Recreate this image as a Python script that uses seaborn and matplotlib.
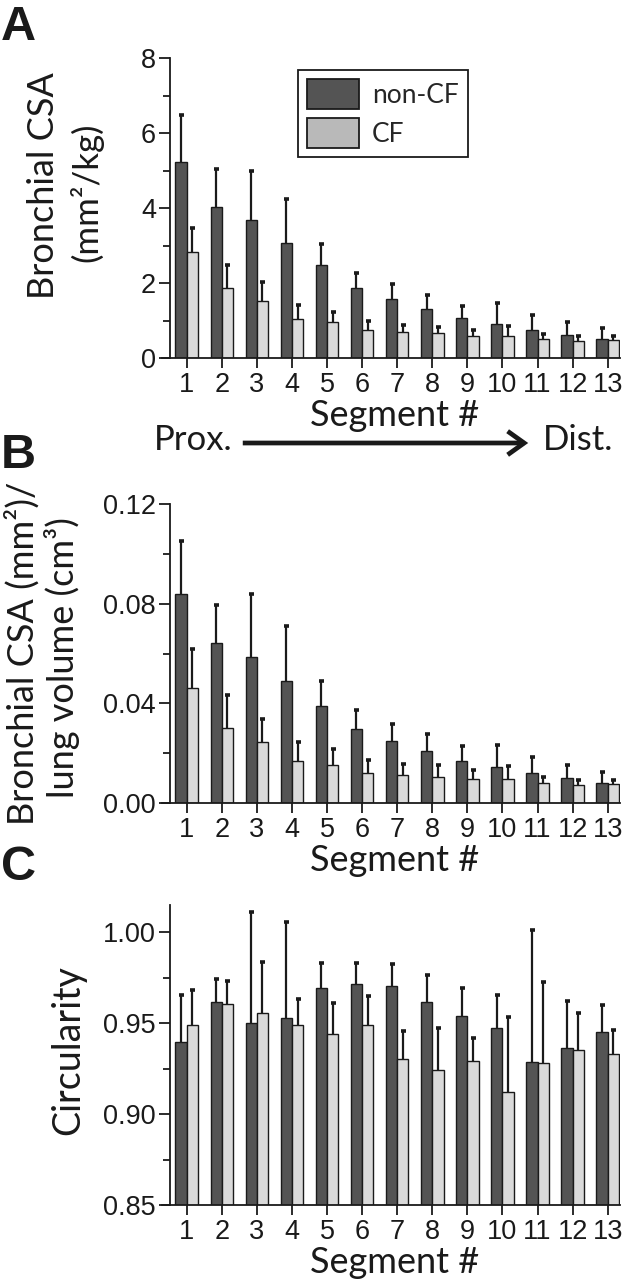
import numpy as np
import pandas as pd
import matplotlib
matplotlib.use("Agg")
import matplotlib.pyplot as plt
import seaborn as sns
from matplotlib.patches import Patch, FancyArrowPatch
from matplotlib.ticker import MultipleLocator, FormatStrFormatter

segments = [str(i) for i in range(1, 14)]
groups = ["non-CF", "CF"]

A_non = [5.24, 4.04, 3.67, 3.07, 2.47, 1.88, 1.58, 1.32, 1.08, 0.92, 0.76, 0.62, 0.50]
A_non_err = [1.25, 1.00, 1.33, 1.17, 0.58, 0.40, 0.39, 0.37, 0.32, 0.55, 0.40, 0.33, 0.30]
A_cf = [2.84, 1.86, 1.51, 1.05, 0.95, 0.76, 0.69, 0.66, 0.59, 0.58, 0.51, 0.46, 0.47]
A_cf_err = [0.64, 0.61, 0.51, 0.36, 0.28, 0.22, 0.20, 0.18, 0.15, 0.28, 0.13, 0.14, 0.13]

B_non = [0.0839, 0.0641, 0.0585, 0.0489, 0.0389, 0.0296, 0.0248, 0.0207, 0.0169, 0.0143, 0.0121, 0.0099, 0.0079]
B_non_err = [0.0211, 0.0154, 0.0254, 0.0220, 0.0101, 0.0077, 0.0069, 0.0070, 0.0058, 0.0088, 0.0062, 0.0052, 0.0046]
B_cf = [0.0463, 0.0303, 0.0243, 0.0170, 0.0153, 0.0121, 0.0112, 0.0105, 0.0096, 0.0097, 0.0080, 0.0071, 0.0075]
B_cf_err = [0.0156, 0.0129, 0.0096, 0.0075, 0.0065, 0.0051, 0.0045, 0.0047, 0.0036, 0.0051, 0.0025, 0.0020, 0.0018]

C_non = [0.9399, 0.9617, 0.9503, 0.9529, 0.9694, 0.9716, 0.9705, 0.9619, 0.9538, 0.9472, 0.9286, 0.9364, 0.9454]
C_non_err = [0.0258, 0.0125, 0.0610, 0.0528, 0.0139, 0.0115, 0.0121, 0.0145, 0.0156, 0.0183, 0.0728, 0.0257, 0.0146]
C_cf = [0.9491, 0.9606, 0.9558, 0.9491, 0.9443, 0.9491, 0.9302, 0.9240, 0.9293, 0.9123, 0.9280, 0.9352, 0.9330]
C_cf_err = [0.0192, 0.0128, 0.0281, 0.0141, 0.0167, 0.0159, 0.0154, 0.0232, 0.0126, 0.0410, 0.0445, 0.0205, 0.0133]

DARK = "#545454"
LIGHT = "#dadada"
LEG_LIGHT = "#b9b9b9"
INK = "#1a1a1a"
TICK_FONT = "Liberation Sans"
LABEL_FONT = "Lato"

sns.set_theme(style="ticks")
plt.rcParams["font.family"] = [TICK_FONT, "DejaVu Sans"]

fig = plt.figure(figsize=(6.24, 12.83), dpi=100)
W, H = 624.0, 1283.0

def ax_rect(left, right, top, bottom):
    return [left / W, (H - bottom) / H, (right - left) / W, (bottom - top) / H]

ax_A = fig.add_axes(ax_rect(170, 620, 58, 358))
ax_B = fig.add_axes(ax_rect(170, 620, 504, 803))
ax_C = fig.add_axes(ax_rect(170, 620, 905, 1205))

def panel(ax, non, non_err, cf, cf_err, ylim, major, minor, fmt):
    df = pd.DataFrame({
        "Segment": segments * 2,
        "value": list(non) + list(cf),
        "group": ["non-CF"] * 13 + ["CF"] * 13,
    })
    sns.barplot(data=df, x="Segment", y="value", hue="group", order=segments,
                hue_order=groups, palette={"non-CF": DARK, "CF": LIGHT},
                edgecolor=INK, linewidth=1.0, width=0.64, gap=0,
                errorbar=None, legend=False, ax=ax)
    for cont, errs in zip(ax.containers[:2], [non_err, cf_err]):
        xs = [b.get_x() + b.get_width() / 2 for b in cont]
        ys = np.array([b.get_height() for b in cont])
        _, caps, _ = ax.errorbar(xs, ys, yerr=[np.zeros(len(errs)), errs], fmt="none",
                                 ecolor=INK, elinewidth=1.6, capsize=1.8, capthick=2.6,
                                 zorder=1)
        for c in caps:
            if np.allclose(np.asarray(c.get_ydata(), dtype=float), ys):
                c.set_visible(False)
    ax.set_xlim(-0.475, 12.35)
    ax.set_ylim(*ylim)
    ax.yaxis.set_major_locator(MultipleLocator(major))
    ax.yaxis.set_minor_locator(MultipleLocator(minor))
    ax.yaxis.set_major_formatter(FormatStrFormatter(fmt))
    sns.despine(ax=ax)
    ax.spines["left"].set_bounds(ylim[0], ylim[1])
    ax.spines["bottom"].set_bounds(-0.7, 12.35)
    for s in ("left", "bottom"):
        ax.spines[s].set_linewidth(1.3)
        ax.spines[s].set_color(INK)
    ax.tick_params(axis="both", which="major", length=8, width=1.3, color=INK,
                   labelsize=19.5, labelcolor=INK, pad=2)
    ax.tick_params(axis="y", which="minor", length=5, width=1.3, color=INK)
    ax.tick_params(axis="x", which="major", length=7, pad=3)
    for lab in ax.get_xticklabels() + ax.get_yticklabels():
        lab.set_fontfamily(TICK_FONT)
    ax.set_xlabel("Segment #", fontsize=26, family=LABEL_FONT, color=INK, labelpad=1)
    ax.set_ylabel("")

panel(ax_A, A_non, A_non_err, A_cf, A_cf_err, (0, 8), 2, 1, "%d")
panel(ax_B, B_non, B_non_err, B_cf, B_cf_err, (0, 0.12), 0.04, 0.02, "%.2f")
panel(ax_C, C_non, C_non_err, C_cf, C_cf_err, (0.85, 1.015), 0.05, 0.025, "%.2f")

# y labels
def ytext(x, y, s, size=26):
    fig.text(x / W, 1 - y / H, s, rotation=90, ha="center", va="center",
             fontsize=size, family=LABEL_FONT, color=INK)

ytext(44, 186, "Bronchial CSA")
ytext(86, 192, "(mm²/kg)", 25)
ytext(22, 653, "Bronchial CSA (mm²)/")
ytext(62, 658, "lung volume (cm³)")
ytext(68, 1050, "Circularity", 27)

# panel letters
for letter, yy in [("A", 27), ("B", 455), ("C", 868)]:
    fig.text(1 / W, 1 - yy / H, letter, ha="left", va="center", fontsize=35,
             fontweight="bold", family=TICK_FONT, color=INK)

# proximal -> distal arrow
fig.text(154 / W, 1 - 440 / H, "Prox.", ha="left", va="center", fontsize=25,
         family=LABEL_FONT, color=INK)
fig.text(613 / W, 1 - 440 / H, "Dist.", ha="right", va="center", fontsize=25,
         family=LABEL_FONT, color=INK)
fig.patches.append(FancyArrowPatch(
    (240 / W, 1 - 443 / H), (531 / W, 1 - 443 / H), transform=fig.transFigure,
    arrowstyle="->,head_length=7,head_width=5", mutation_scale=1.7,
    linewidth=3.4, color=INK, capstyle="butt", joinstyle="miter"))

# legend
handles = [Patch(facecolor=DARK, edgecolor=INK, linewidth=1.3),
           Patch(facecolor=LEG_LIGHT, edgecolor=INK, linewidth=1.3)]
leg = ax_A.legend(handles, groups, loc="upper left",
                  bbox_to_anchor=((298 - 170) / 450, (358 - 70) / 300),
                  frameon=True, fancybox=False, framealpha=1, edgecolor=INK,
                  handlelength=1.95, handleheight=1.35, handletextpad=0.5,
                  borderpad=0.35, labelspacing=0.35, borderaxespad=0,
                  prop={"family": LABEL_FONT, "size": 19})
leg.get_frame().set_linewidth(1.3)

fig.savefig("out.png", dpi=100)
